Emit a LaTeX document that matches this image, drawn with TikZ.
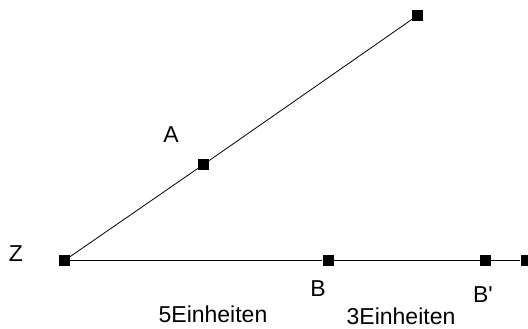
\documentclass[tikz,border=0pt]{standalone}
\usepackage{fontspec}
\setmainfont{Liberation Sans}
\usepackage{tikz}
\usetikzlibrary{positioning}

\begin{document}
\begin{tikzpicture}[
  x=1pt, y=1pt,
  pt/.style={fill=black, minimum size=11pt, inner sep=0pt},
  lbl/.style={font=\fontsize{23}{27}\selectfont, inner sep=0pt, anchor=base},
  ray/.style={line width=0.8pt},
]
\useasboundingbox (0,0) rectangle (528,329);

\node[pt] (z) at (64.5,68.5) {};
\node[pt] (a) at (203.5,164.5) {};
\node[pt] (p) at (417.5,313.5) {};
\node[pt] (b) at (328,68.5) {};
\node[pt] (bb) at (485.5,68.5) {};
\node[pt] (c) at (526,68.5) {};

\draw[ray] (z) -- (a) -- (p);
\draw[ray, line width=1.2pt] (z) -- (b);
\draw[ray] (b) -- (bb) -- (c);

\node[lbl] (zl) at (16,67) {Z};
\node[lbl] (al) at (171,186) {A};
\node[lbl] (bl) at (318,32) {B};
\node[lbl] (bbl) at (483,26) {B\textquotesingle};
\node[lbl] (e5) at (213,6) {5Einheiten};
\node[lbl] (e3) at (401,4) {3Einheiten};
\end{tikzpicture}
\end{document}
